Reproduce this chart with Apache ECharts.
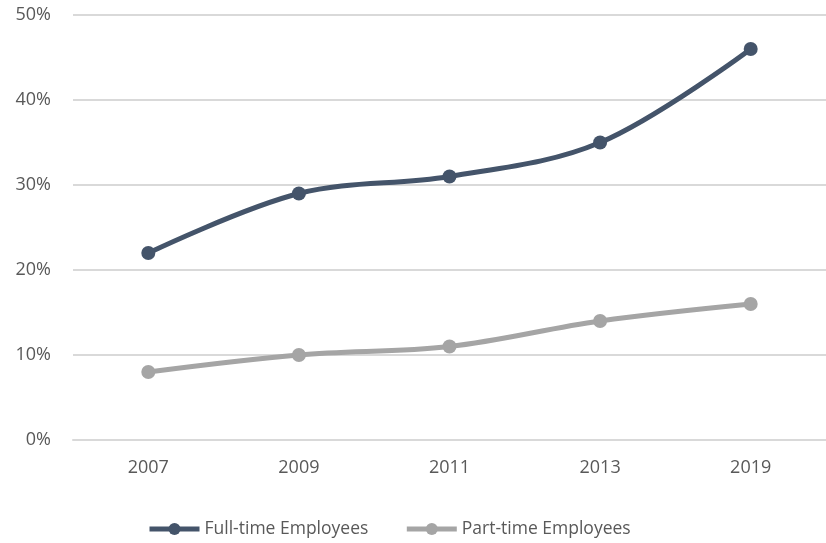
<!DOCTYPE html>
<html><head><meta charset="utf-8">
<script src="https://cdn.jsdelivr.net/npm/echarts@6/dist/echarts.min.js"></script>
<style>html,body{margin:0;padding:0;background:#fff}#c{width:826px;height:543px}</style>
</head><body><div id="c"></div>
<script>
const categories = ['2007', '2009', '2011', '2013', '2019'];
const fullTime = [22, 29, 31, 35, 46];
const partTime = [8, 10, 11, 14, 16];
const yTicks = [0, 10, 20, 30, 40, 50];

const chart = echarts.init(document.getElementById('c'));
const font = 'Open Sans, Liberation Sans, sans-serif';
chart.setOption({
  animation: false,
  grid: { left: 73, top: 15, width: 760, height: 425, containLabel: false },
  xAxis: {
    type: 'category', data: categories, boundaryGap: true,
    axisLine: { lineStyle: { color: '#d9d9d9', width: 2 } },
    axisTick: { show: false },
    axisLabel: { color: '#595959', fontSize: 18, fontFamily: font, margin: 19 }
  },
  yAxis: {
    type: 'value', min: yTicks[0], max: yTicks[yTicks.length - 1], interval: 10,
    axisLine: { show: false }, axisTick: { show: false },
    splitLine: { lineStyle: { color: '#d9d9d9', width: 2 } },
    axisLabel: { color: '#595959', fontSize: 18, fontFamily: font, margin: 22, formatter: '{value}%' }
  },
  legend: {
    bottom: 0, left: 142, itemWidth: 50, itemHeight: 15, itemGap: 36,
    lineStyle: { width: 5 },
    textStyle: { color: '#595959', fontSize: 17.5, fontFamily: font },
    data: ['Full-time Employees', 'Part-time Employees']
  },
  series: [
    { name: 'Full-time Employees', type: 'line', data: fullTime, smooth: 0.35,
      symbol: 'circle', symbolSize: 14,
      lineStyle: { color: '#44546A', width: 5 }, itemStyle: { color: '#44546A' } },
    { name: 'Part-time Employees', type: 'line', data: partTime, smooth: 0.35,
      symbol: 'circle', symbolSize: 14,
      lineStyle: { color: '#A5A5A5', width: 5 }, itemStyle: { color: '#A5A5A5' } }
  ]
});
</script></body></html>
